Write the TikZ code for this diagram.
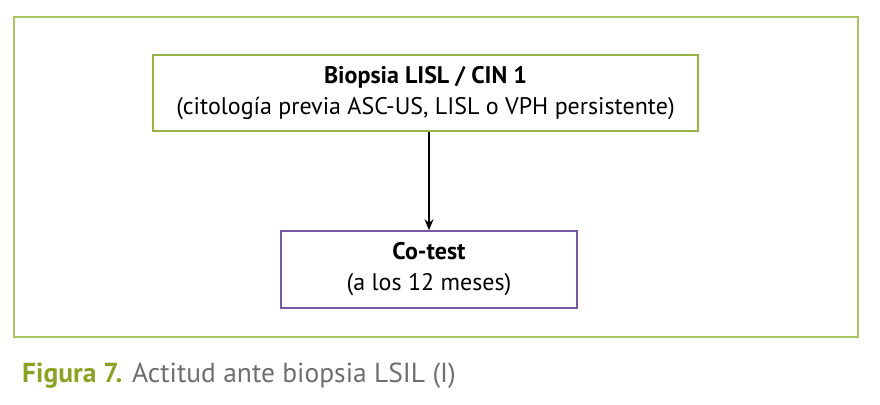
\documentclass[tikz,border=0pt]{standalone}
\usepackage{fontspec}
\setmainfont{PT Sans}
\usetikzlibrary{arrows.meta}
\definecolor{framegreen}{RGB}{170,196,98}
\definecolor{boxgreen}{RGB}{150,180,70}
\definecolor{capgreen}{RGB}{138,163,38}
\definecolor{boxpurple}{RGB}{120,88,160}
\definecolor{capgray}{RGB}{110,110,110}
\tikzset{
  flowbox/.style={draw, line width=1.6pt, fill=white, align=center, inner sep=0pt, font=\fontsize{24}{31}\selectfont, text=black},
  conn/.style={line width=1.1pt, -{Stealth[length=11pt,width=9pt]}},
}
\begin{document}
\begin{tikzpicture}[x=1pt,y=1pt]
\useasboundingbox (0,0) rectangle (880,404);
\draw[framegreen, line width=1.4pt] (14,387) rectangle (858,67);
\node[flowbox, draw=boxgreen, minimum width=545pt, minimum height=76pt] (top) at (425.5,311)
  {\textbf{Biopsia LISL / CIN 1}\\(citología previa ASC-US, LISL o VPH persistente)};
\node[flowbox, draw=boxpurple, minimum width=296pt, minimum height=77pt] (bot) at (429,134.5)
  {\textbf{Co-test}\\(a los 12 meses)};
\draw[conn] (top.south -| bot.north) -- (bot.north);
\node[anchor=base west, inner sep=0pt, font=\fontsize{27.5}{30}\selectfont, text=capgray] (cap) at (22,21)
  {\textcolor{capgreen}{\textbf{Figura 7.}} Actitud ante biopsia LSIL (I)};
\end{tikzpicture}
\end{document}
